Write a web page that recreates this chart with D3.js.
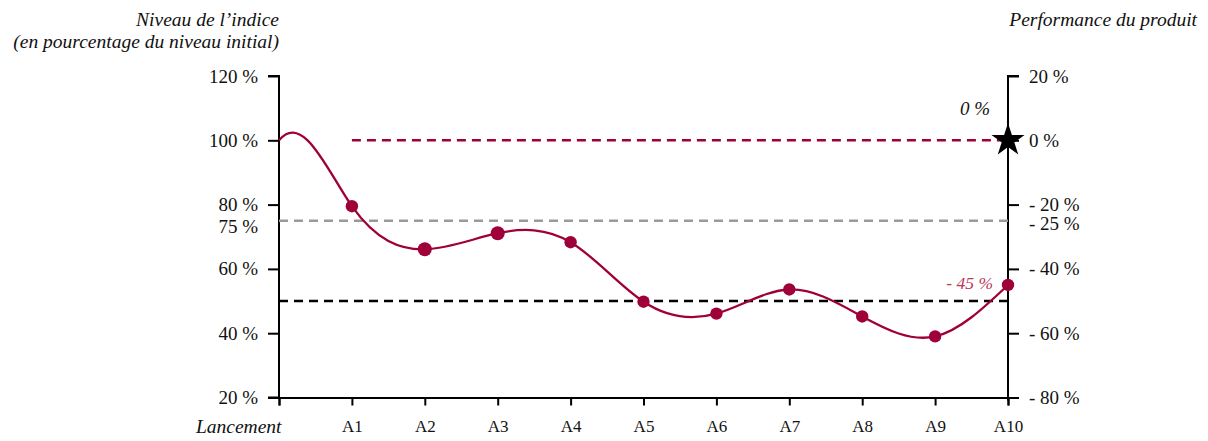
<!DOCTYPE html>
<html>
<head>
<meta charset="utf-8">
<script src="https://cdn.jsdelivr.net/npm/d3@7"></script>
<style>
	body { margin: 0; background: #fff; }
	svg text { font-family: "Liberation Serif", "DejaVu Serif", serif; fill: #111; }
	.italic { font-style: italic; }
</style>
</head>
<body>
<div id="chart"></div>
<script>
// categories along the x axis
let categories = ["Lancement", "A1", "A2", "A3", "A4", "A5", "A6", "A7", "A8", "A9", "A10"];
// index level, % of initial level
let indexValues = [100, 79.5, 66.1, 71.1, 68.3, 49.8, 46.1, 53.6, 45.2, 39, 55];
// left axis ticks (index level) and right axis ticks (product performance)
let leftTicks = [120, 100, 80, 60, 40, 20];
let rightTicks = [20, 0, -20, -40, -60, -80];
// reference levels
let protectionLevel = 75;   // grey dashed, -25 %
let barrierLevel = 50;      // black dashed
let initialLevel = 100;     // maroon dashed, 0 %
let finalPerf = -45;
let maroon = "#a0003a";

let width = 1208, height = 441;
let margin = {top: 76, right: 200, bottom: 44, left: 279};

let svg = d3.select("#chart")
	.append("svg")
	.attr("width", width)
	.attr("height", height);

let xScale = d3.scalePoint()
	.domain(categories)
	.range([margin.left, width - margin.right]);

let yScale = d3.scaleLinear()
	.domain([20, 120])
	.range([397.5, margin.top]);

// right axis is the same scale shifted by 100
let yRight = d3.scaleLinear()
	.domain([-80, 20])
	.range([397.5, margin.top]);

let x0 = xScale(categories[0]),
	x1 = xScale(categories[categories.length - 1]);

// left axis
let leftAxis = svg.append("g")
	.attr("transform", "translate(" + x0 + ",0)")
	.call(d3.axisLeft(yScale).tickValues(leftTicks).tickSize(11).tickPadding(10)
		.tickFormat(function (d) { return d + "\u00a0%"; }));
leftAxis.append("text")
	.attr("x", -21)
	.attr("y", yScale(protectionLevel) + 6)
	.attr("dy", "0.35em")
	.attr("text-anchor", "end")
	.text(protectionLevel + "\u00a0%");

// right axis
let rightAxis = svg.append("g")
	.attr("transform", "translate(" + x1 + ",0)")
	.call(d3.axisRight(yRight).tickValues(rightTicks).tickSize(11).tickPadding(10)
		.tickFormat(function (d) { return d < 0 ? "- " + (-d) + "\u00a0%" : d + "\u00a0%"; }));
rightAxis.append("text")
	.attr("x", 21)
	.attr("y", yRight(protectionLevel - 100) + 3)
	.attr("dy", "0.35em")
	.text("- " + (100 - protectionLevel) + "\u00a0%");

// bottom axis
let bottomAxis = svg.append("g")
	.attr("transform", "translate(0," + yScale(20) + ")")
	.call(d3.axisBottom(xScale).tickSize(8).tickPadding(14));

svg.selectAll(".domain").attr("stroke", "#000").attr("stroke-width", 2);
svg.selectAll(".tick line").attr("stroke", "#000").attr("stroke-width", 2);
leftAxis.selectAll("text").attr("font-size", 19).attr("fill", "#111");
rightAxis.selectAll("text").attr("font-size", 19).attr("fill", "#111");
bottomAxis.selectAll(".tick text").attr("font-size", 17).attr("fill", "#111");
bottomAxis.selectAll(".tick text")
	.filter(function (d) { return d === categories[0]; })
	.attr("class", "italic")
	.attr("text-anchor", "end")
	.attr("x", 2)
	.attr("font-size", 19.5);
leftAxis.select(".domain").attr("d", "M-11," + yScale(120) + "H0V" + yScale(20) + "H-11");
rightAxis.select(".domain").attr("d", "M11," + yRight(20) + "H0V" + (yRight(-80) + 3));

// reference lines
function refLine(xa, level, color) {
	svg.append("line")
		.attr("x1", xa).attr("x2", x1)
		.attr("y1", yScale(level)).attr("y2", yScale(level))
		.attr("stroke", color).attr("stroke-width", 2.4).attr("stroke-dasharray", "9,6");
}
refLine(x0, protectionLevel, "#9a9a9a");
refLine(x0, barrierLevel, "#000");
refLine(xScale(categories[1]), initialLevel, maroon);

// index curve: cubic spline through the points, natural at the end,
// leaving the launch point with a slight upward tangent
let points = categories.map(function (c, i) {
	return {cat: c, y: indexValues[i]};
});
function splinePath(pts, startSlope) {
	let n = pts.length - 1,
		h = pts[1][0] - pts[0][0],
		a = [], b = [], c = [], r = [];
	a[0] = 0; b[0] = 1; c[0] = 0; r[0] = startSlope;
	for (let i = 1; i < n; i++) {
		a[i] = 1; b[i] = 4; c[i] = 1;
		r[i] = 3 * (pts[i + 1][1] - pts[i - 1][1]) / h;
	}
	a[n] = 1; b[n] = 2; c[n] = 0; r[n] = 3 * (pts[n][1] - pts[n - 1][1]) / h;
	// Thomas algorithm
	for (let i = 1; i <= n; i++) {
		let w = a[i] / b[i - 1];
		b[i] -= w * c[i - 1];
		r[i] -= w * r[i - 1];
	}
	let m = [];
	m[n] = r[n] / b[n];
	for (let i = n - 1; i >= 0; i--) m[i] = (r[i] - c[i] * m[i + 1]) / b[i];
	let p = d3.path();
	p.moveTo(pts[0][0], pts[0][1]);
	for (let i = 0; i < n; i++) {
		p.bezierCurveTo(pts[i][0] + h / 3, pts[i][1] + m[i] * h / 3,
			pts[i + 1][0] - h / 3, pts[i + 1][1] - m[i + 1] * h / 3,
			pts[i + 1][0], pts[i + 1][1]);
	}
	return p.toString();
}
let pixelPoints = points.map(function (d) { return [xScale(d.cat), yScale(d.y)]; });
svg.append("path")
	.attr("fill", "none")
	.attr("stroke", maroon)
	.attr("stroke-width", 2.3)
	.attr("d", splinePath(pixelPoints, -1.2));

svg.selectAll(".dot")
	.data(points.slice(1))
	.enter().append("circle")
	.attr("class", "dot")
	.attr("cx", function (d) { return xScale(d.cat); })
	.attr("cy", function (d) { return yScale(d.y); })
	.attr("r", function (d) { return (d.cat === "A2" || d.cat === "A3") ? 7 : 6.2; })
	.attr("fill", maroon);

// star at final observation date, 0 %
svg.append("path")
	.attr("d", d3.symbol().type(d3.symbolStar).size(340)())
	.attr("transform", "translate(" + x1 + "," + yScale(initialLevel) + ")")
	.attr("fill", "#000");

// annotations
svg.append("text")
	.attr("class", "italic")
	.attr("x", x1 - 33).attr("y", yScale(initialLevel) - 25)
	.attr("text-anchor", "middle")
	.attr("font-size", 19)
	.text("0\u00a0%");
svg.append("text")
	.attr("class", "italic")
	.attr("x", x1 - 15).attr("y", yScale(indexValues[indexValues.length - 1]) - 1)
	.attr("dy", "0.3em")
	.attr("text-anchor", "end")
	.attr("font-size", 17.5)
	.style("fill", "#b8385a")
	.text("- " + (-finalPerf) + "\u00a0%");

// axis titles
function title(x, y, txt) {
	svg.append("text")
		.attr("class", "italic")
		.attr("x", x).attr("y", y)
		.attr("text-anchor", "end")
		.attr("font-size", 19.5)
		.text(txt);
}
title(x0, 26, "Niveau de l\u2019indice");
title(x0, 48, "(en pourcentage du niveau initial)");
title(1197, 26, "Performance du produit");
</script>
</body>
</html>
